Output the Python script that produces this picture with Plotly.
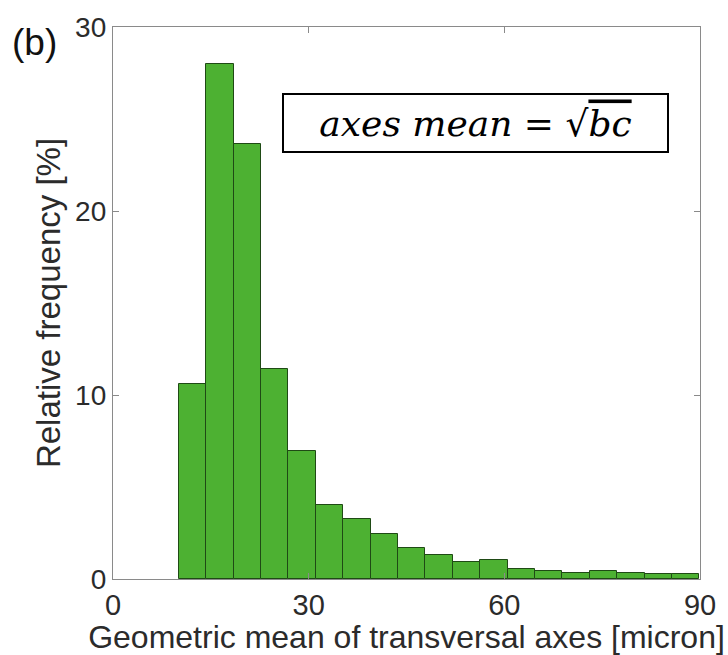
import plotly.graph_objects as go

# Data
bin_start = 10.1
bin_width = 4.2
freq = [10.6, 28.0, 23.65, 11.4, 6.95, 4.0, 3.25, 2.45, 1.7, 1.3,
        0.95, 1.05, 0.55, 0.45, 0.33, 0.45, 0.3, 0.25, 0.25]
x_ticks = [0, 30, 60, 90]
y_ticks = [0, 10, 20, 30]
x_title = "Geometric mean of transversal axes [micron]"
y_title = "Relative frequency [%]"
panel_label = "(b)"

centers = [bin_start + bin_width * (i + 0.5) for i in range(len(freq))]

axis_col = "#8a8a8a"
text_col = "#2b2b2b"
font_fam = "Liberation Sans, Arial, sans-serif"

fig = go.Figure()
fig.add_trace(go.Bar(
    x=centers, y=freq, width=bin_width,
    marker=dict(color="#4DB132", line=dict(color="#1f4a15", width=1)),
    hoverinfo="x+y",
))

fig.update_layout(
    width=728, height=655,
    margin=dict(l=113, r=28, t=27, b=72),
    paper_bgcolor="white", plot_bgcolor="white",
    showlegend=False, bargap=0,
    font=dict(family=font_fam, color=text_col, size=28),
    xaxis=dict(
        range=[0, 90], tickvals=x_ticks, ticktext=[str(v) for v in x_ticks],
        showgrid=False, zeroline=False, showline=True, linecolor=axis_col, linewidth=1.3,
        mirror="ticks", ticks="inside", ticklen=6, tickcolor=axis_col, tickwidth=1.3,
        tickfont=dict(size=29, color=text_col),
        title=dict(text=x_title, font=dict(size=32, color=text_col), standoff=0),
    ),
    yaxis=dict(
        range=[0, 30], tickvals=y_ticks, ticktext=[str(v) for v in y_ticks],
        showgrid=False, zeroline=False, showline=True, linecolor=axis_col, linewidth=1.3,
        mirror="ticks", ticks="inside", ticklen=6, tickcolor=axis_col, tickwidth=1.3,
        tickfont=dict(size=28, color=text_col),
        title=dict(text=y_title, font=dict(size=33, color=text_col), standoff=4),
    ),
)

fig.add_annotation(
    xref="paper", yref="paper", x=-0.175, y=0.972, xanchor="left", yanchor="middle",
    text=panel_label, showarrow=False, font=dict(size=37, color="#111111", family=font_fam),
)

fig.add_annotation(
    xref="x", yref="y", x=55.6, y=24.8, xanchor="center", yanchor="middle",
    text="<i>axes mean</i> = √<span style='text-decoration:overline'><i>bc</i></span>",
    showarrow=False,
    font=dict(size=36, color="black", family="DejaVu Serif, Liberation Serif, serif"),
    bordercolor="black", borderwidth=2, bgcolor="white",
    borderpad=0, width=383, height=56,
)

fig.write_html("out.html")
